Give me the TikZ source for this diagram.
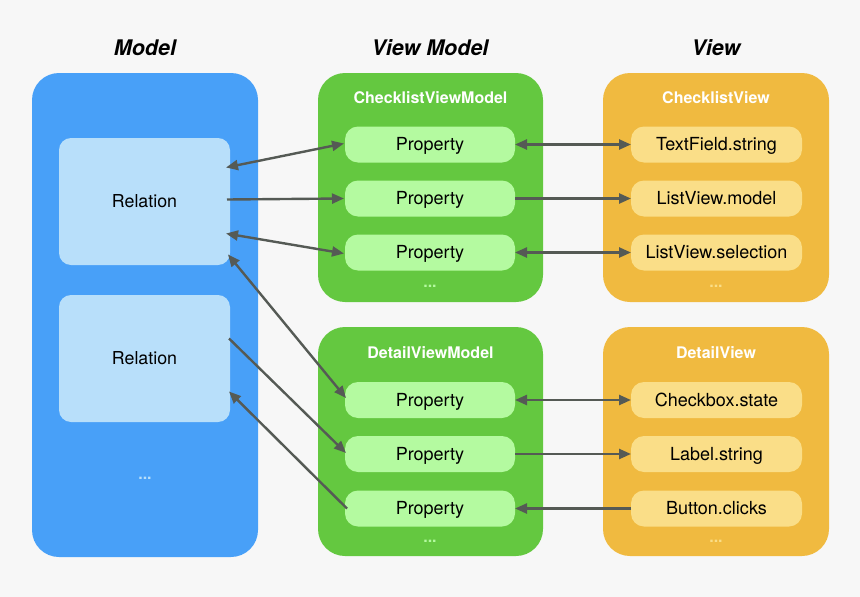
\documentclass[tikz,border=0pt]{standalone}
\usepackage{fontspec}
\setmainfont{TeX Gyre Heros}
\usetikzlibrary{arrows.meta,calc}
\definecolor{bg}{HTML}{F7F7F7}
\definecolor{mblue}{HTML}{48A0F8}
\definecolor{mlight}{HTML}{B8DFFA}
\definecolor{vmgreen}{HTML}{64C840}
\definecolor{vmlight}{HTML}{B4FAA0}
\definecolor{vorange}{HTML}{F0BA40}
\definecolor{vlight}{HTML}{FADE88}
\definecolor{arr}{HTML}{555A55}
\tikzset{
  bigbox/.style={rounded corners=27pt, inner sep=0pt, outer sep=0pt, minimum width=226pt},
  relbox/.style={rounded corners=12pt, inner sep=0pt, outer sep=0pt, fill=mlight, minimum width=171pt, minimum height=127pt, text height=12.8pt, text depth=0pt, font=\fontsize{17.8}{20}\selectfont},
  vmpill/.style={rounded corners=13pt, inner sep=0pt, outer sep=0pt, fill=vmlight, minimum width=170pt, minimum height=36pt, text height=12.8pt, text depth=0pt, font=\fontsize{18}{20}\selectfont},
  vpill/.style={rounded corners=13pt, inner sep=0pt, outer sep=0pt, fill=vlight, minimum width=171pt, minimum height=36pt, text height=12.8pt, text depth=0pt, font=\fontsize{18}{20}\selectfont},
  coltitle/.style={font=\fontsize{21.5}{24}\selectfont\bfseries\itshape},
  boxtitle/.style={text=white, font=\fontsize{16}{18}\selectfont\bfseries},
  dots/.style={font=\fontsize{16}{18}\selectfont\bfseries},
  conn/.style={draw=arr, line width=2.4pt},
  one/.style={conn, -{Triangle[length=12pt,width=10pt]}},
  two/.style={conn, {Triangle[length=12pt,width=10pt]}-{Triangle[length=12pt,width=10pt]}},
}
\begin{document}
\begin{tikzpicture}[x=1pt,y=-1pt]
\fill[bg] (0,0) rectangle (860,597);
\useasboundingbox (0,0) rectangle (860,597);

% column titles
\node[coltitle] (tmodel) at (145,48) {Model};
\node[coltitle] (tvm) at (430,48) {View Model};
\node[coltitle] (tview) at (716,48) {View};

% model
\node[bigbox, fill=mblue, minimum height=484pt] (model) at (145,315) {};
\node[relbox] (r1) at (144.5,201.5) {Relation};
\node[relbox] (r2) at (144.5,358.5) {Relation};
\node[dots, text=mlight] (mdots) at (145,478) {...};

% view models
\node[bigbox, fill=vmgreen, minimum width=225pt, minimum height=229pt] (cvm) at (430.5,187.5) {};
\node[boxtitle] (cvmt) at (430.5,98) {ChecklistViewModel};
\node[vmpill] (p1) at (430,144.5) {Property};
\node[vmpill] (p2) at (430,198.5) {Property};
\node[vmpill] (p3) at (430,252.5) {Property};
\node[dots, text=vmlight] (cvmd) at (430,286) {...};

\node[bigbox, fill=vmgreen, minimum width=225pt, minimum height=229pt] (dvm) at (430.5,441.5) {};
\node[boxtitle] (dvmt) at (430.5,353) {DetailViewModel};
\node[vmpill] (p4) at (430,400) {Property};
\node[vmpill] (p5) at (430,454) {Property};
\node[vmpill] (p6) at (430,508.5) {Property};
\node[dots, text=vmlight] (dvmd) at (430,541) {...};

% views
\node[bigbox, fill=vorange, minimum height=229pt] (cv) at (716,187.5) {};
\node[boxtitle] (cvt) at (716,98) {ChecklistView};
\node[vpill] (v1) at (716.5,144.5) {TextField.string};
\node[vpill] (v2) at (716.5,198.5) {ListView.model};
\node[vpill] (v3) at (716.5,252.5) {ListView.selection};
\node[dots, text=vlight] (cvd) at (716,286) {...};

\node[bigbox, fill=vorange, minimum height=229pt] (dv) at (716,441.5) {};
\node[boxtitle] (dvt) at (716,353) {DetailView};
\node[vpill] (v4) at (716.5,400) {Checkbox.state};
\node[vpill] (v5) at (716.5,454) {Label.string};
\node[vpill] (v6) at (716.5,508.5) {Button.clicks};
\node[dots, text=vlight] (dvd) at (716,541) {...};

% model <-> view model
\draw[two] ([xshift=-4pt,yshift=34pt]r1.east) -- ([xshift=-1pt,yshift=1pt]p1.west);
\draw[one] ([xshift=-3pt,yshift=2pt]r1.east) -- ([xshift=-1pt]p2.west);
\draw[two] ([xshift=-4pt,yshift=-32pt]r1.east) -- ([xshift=-1pt,yshift=-1pt]p3.west);
\draw[two] ([xshift=-2pt,yshift=-53pt]r1.east) -- ([xshift=1pt,yshift=2pt]p4.west);
\draw[one] ([xshift=-1pt,yshift=20pt]r2.east) -- ([xshift=1pt,yshift=1pt]p5.west);
\draw[one] ([xshift=2pt]p6.west) -- ([xshift=-1pt,yshift=-33pt]r2.east);

% view model <-> view
\draw[two] (p1.east) -- (v1.west);
\draw[one] (p2.east) -- (v2.west);
\draw[two] (p3.east) -- (v3.west);
\draw[two] (p4.east) -- (v4.west);
\draw[one] (p5.east) -- (v5.west);
\draw[one] (v6.west) -- (p6.east);
\end{tikzpicture}
\end{document}
